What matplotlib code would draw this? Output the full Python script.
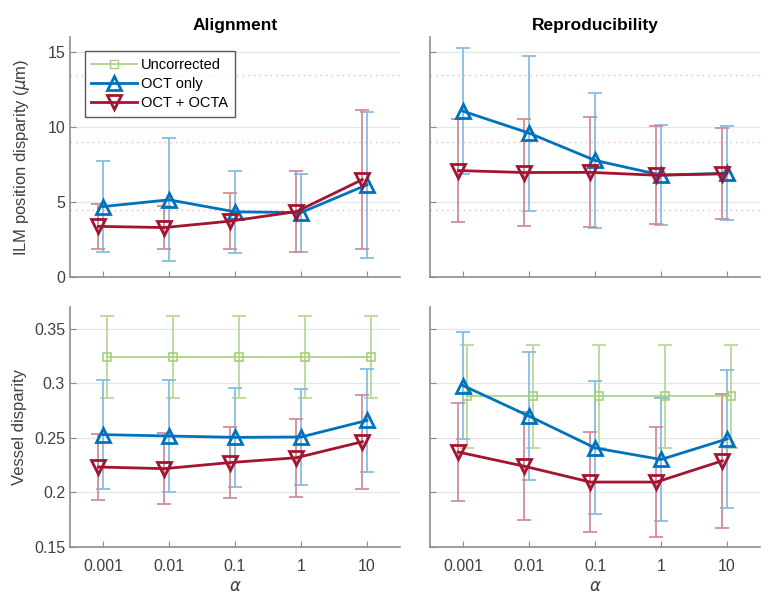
import matplotlib
matplotlib.use("Agg")
import matplotlib.pyplot as plt

plt.rcParams["font.family"] = ["Liberation Sans", "DejaVu Sans"]

alphas = ["0.001", "0.01", "0.1", "1", "10"]
methods = ["Uncorrected", "OCT only", "OCT + OCTA"]

# ILM position disparity (um), alignment
ilm_align_oct = [4.7, 5.15, 4.35, 4.3, 6.15]
ilm_align_oct_sd = [3.05, 4.1, 2.72, 2.6, 4.85]
ilm_align_octa = [3.38, 3.3, 3.73, 4.36, 6.5]
ilm_align_octa_sd = [1.5, 1.43, 1.87, 2.68, 4.65]

# ILM position disparity (um), reproducibility
ilm_repro_oct = [11.06, 9.6, 7.78, 6.8, 6.92]
ilm_repro_oct_sd = [4.22, 5.17, 4.49, 3.34, 3.14]
ilm_repro_octa = [7.1, 6.97, 6.98, 6.79, 6.88]
ilm_repro_octa_sd = [3.43, 3.57, 3.66, 3.25, 3.03]

# reference levels (dotted)
ilm_ref = [4.5, 9.0, 13.5]

# vessel disparity, alignment
ves_align_unc = [0.324, 0.324, 0.324, 0.324, 0.324]
ves_align_unc_sd = [0.0375, 0.0375, 0.0375, 0.0375, 0.0375]
ves_align_oct = [0.253, 0.2517, 0.2505, 0.2508, 0.266]
ves_align_oct_sd = [0.050, 0.051, 0.0455, 0.044, 0.0475]
ves_align_octa = [0.2233, 0.2218, 0.2274, 0.2318, 0.2465]
ves_align_octa_sd = [0.030, 0.0323, 0.0326, 0.0357, 0.043]

# vessel disparity, reproducibility
ves_repro_unc = [0.288, 0.288, 0.288, 0.288, 0.288]
ves_repro_unc_sd = [0.0475, 0.0475, 0.0475, 0.0475, 0.0475]
ves_repro_oct = [0.298, 0.270, 0.2408, 0.2302, 0.249]
ves_repro_oct_sd = [0.0487, 0.0585, 0.061, 0.0567, 0.0634]
ves_repro_octa = [0.237, 0.224, 0.2095, 0.2095, 0.229]
ves_repro_octa_sd = [0.045, 0.0496, 0.0458, 0.0503, 0.0615]

BLUE = "#0072BD"
RED = "#A2142F"
GREEN = "#A5CF7E"
BLUE_ERR = "#86BDE3"
RED_ERR = "#D38C9A"
GREEN_ERR = "#B9DA9A"

xpos = list(range(1, len(alphas) + 1))


def shift(d):
    return [x + d for x in xpos]


def series(ax, y, sd, color, ecolor, marker, ms, lw, dx, label):
    xs = shift(dx)
    ax.errorbar(xs, y, yerr=sd, fmt="none", ecolor=ecolor, elinewidth=1.3,
                capsize=5, capthick=1.3, zorder=2)
    ax.plot(xs, y, color=color, lw=lw, marker=marker, ms=ms, mfc="none",
            mec=color, mew=lw, zorder=3, label=label)


def style(ax, ylim, yticks, show_ylabels, show_xlabels):
    ax.set_xlim(0.5, 5.5)
    ax.set_ylim(*ylim)
    ax.set_xticks(xpos)
    ax.set_yticks(yticks)
    if show_xlabels:
        ax.set_xticklabels(alphas)
        ax.set_xlabel(r"$\alpha$", fontsize=12, color="#404040", labelpad=3)
    else:
        ax.set_xticklabels([])
    if not show_ylabels:
        ax.set_yticklabels([])
    for s in ["top", "right"]:
        ax.spines[s].set_visible(False)
    for s in ["left", "bottom"]:
        ax.spines[s].set_color("#8c8c8c")
        ax.spines[s].set_linewidth(1.2)
    ax.tick_params(direction="in", length=4, color="#8c8c8c",
                   labelcolor="#404040", labelsize=11.5)
    ax.tick_params(axis="x", pad=9)
    ax.grid(axis="y", color="#e6e6e6", lw=0.9)
    ax.set_axisbelow(True)


fig = plt.figure(figsize=(7.68, 6.01), dpi=100)

W, H = 0.4297, 0.3993
ax_tl = fig.add_axes([0.0911, 0.539, W, H])
ax_tr = fig.add_axes([0.5599, 0.539, W, H])
ax_bl = fig.add_axes([0.0911, 0.0899, W, H])
ax_br = fig.add_axes([0.5599, 0.0899, W, H])

for ax in (ax_tl, ax_tr):
    for r in ilm_ref:
        ax.axhline(r, color="#ffb3b3", lw=1.0, ls=(0, (1, 3)), zorder=1)

# top left
ax_tl.plot([], [], color=GREEN, lw=1.2, marker="s", ms=6, mfc="none",
           mec=GREEN, label=methods[0])
series(ax_tl, ilm_align_oct, ilm_align_oct_sd, BLUE, BLUE_ERR, "^", 10, 2, 0.0, methods[1])
series(ax_tl, ilm_align_octa, ilm_align_octa_sd, RED, RED_ERR, "v", 10, 2, -0.07, methods[2])

# top right
series(ax_tr, ilm_repro_oct, ilm_repro_oct_sd, BLUE, BLUE_ERR, "^", 10, 2, 0.0, methods[1])
series(ax_tr, ilm_repro_octa, ilm_repro_octa_sd, RED, RED_ERR, "v", 10, 2, -0.07, methods[2])

# bottom left
series(ax_bl, ves_align_unc, ves_align_unc_sd, GREEN, GREEN_ERR, "s", 6, 1.2, 0.06, methods[0])
series(ax_bl, ves_align_oct, ves_align_oct_sd, BLUE, BLUE_ERR, "^", 10, 2, 0.0, methods[1])
series(ax_bl, ves_align_octa, ves_align_octa_sd, RED, RED_ERR, "v", 10, 2, -0.07, methods[2])

# bottom right
series(ax_br, ves_repro_unc, ves_repro_unc_sd, GREEN, GREEN_ERR, "s", 6, 1.2, 0.06, methods[0])
series(ax_br, ves_repro_oct, ves_repro_oct_sd, BLUE, BLUE_ERR, "^", 10, 2, 0.0, methods[1])
series(ax_br, ves_repro_octa, ves_repro_octa_sd, RED, RED_ERR, "v", 10, 2, -0.07, methods[2])

style(ax_tl, (0, 16), [0, 5, 10, 15], True, False)
style(ax_tr, (0, 16), [0, 5, 10, 15], False, False)
style(ax_bl, (0.15, 0.37), [0.15, 0.2, 0.25, 0.3, 0.35], True, True)
style(ax_br, (0.15, 0.37), [0.15, 0.2, 0.25, 0.3, 0.35], False, True)
ax_bl.set_yticklabels(["0.15", "0.2", "0.25", "0.3", "0.35"])

ax_tl.set_title("Alignment", fontsize=12.5, fontweight="bold", pad=5)
ax_tr.set_title("Reproducibility", fontsize=12.5, fontweight="bold", pad=5)
ax_tl.set_ylabel(r"ILM position disparity ($\mu$m)", fontsize=12, color="#404040")
ax_bl.set_ylabel("Vessel disparity", fontsize=12, color="#404040")
ax_tl.yaxis.set_label_coords(-0.115, 0.5)
ax_bl.yaxis.set_label_coords(-0.13, 0.5)

leg = ax_tl.legend(loc="upper left", bbox_to_anchor=(0.045, 0.94), fontsize=10.5,
                   frameon=True, fancybox=False, handlelength=3.1,
                   handletextpad=0.3, borderpad=0.45, labelspacing=0.35,
                   borderaxespad=0.0)
leg.get_frame().set_edgecolor("#303030")
leg.get_frame().set_linewidth(1.0)

fig.savefig("out.png", dpi=100)
